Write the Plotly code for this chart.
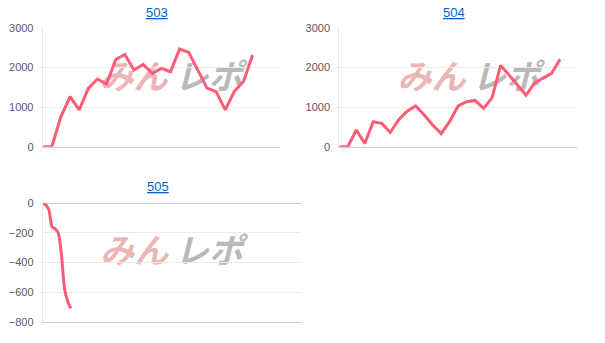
import plotly.graph_objects as go

# ---- data ----
titles = ["503", "504", "505"]
x503 = list(range(24))
y503 = [0, 0, 760, 1265, 930, 1475, 1710, 1585, 2205, 2330, 1940, 2080, 1855, 1980,
        1895, 2470, 2385, 1940, 1480, 1390, 930, 1400, 1650, 2320]
x504 = list(range(27))
y504 = [0, 0, 421, 80, 631, 590, 360, 680, 895, 1030, 800, 547, 330, 640, 1030, 1137,
        1170, 968, 1240, 2055, 1810, 1558, 1300, 1610, 1726, 1852, 2210]
x505 = list(range(10))
y505 = [0, -10, -45, -160, -172, -200, -340, -575, -660, -710]
yticks_pos = [0, 1000, 2000, 3000]
yticks_neg = [0, -200, -400, -600, -800]

W, H = 605, 343
LINE = "#ff5a76"
TICKFONT = dict(family="Liberation Sans, Arial, sans-serif", size=11, color="#5a5a5a")


def px_dom_x(a, b):
    return [a / W, b / W]


def px_dom_y(top, bottom):
    return [1 - bottom / H, 1 - top / H]


fig = go.Figure()
fig.add_trace(go.Scatter(x=x503, y=y503, mode="lines", line=dict(color=LINE, width=3),
                         xaxis="x", yaxis="y", hoverinfo="skip"))
fig.add_trace(go.Scatter(x=x504, y=y504, mode="lines", line=dict(color=LINE, width=3),
                         xaxis="x2", yaxis="y2", hoverinfo="skip"))
fig.add_trace(go.Scatter(x=x505, y=y505, mode="lines",
                         line=dict(color=LINE, width=3, shape="spline", smoothing=0.6),
                         xaxis="x3", yaxis="y3", hoverinfo="skip"))


def xax(dom, rng, anchor):
    return dict(domain=dom, range=rng, anchor=anchor, showgrid=False, zeroline=False,
                showticklabels=False, showline=True, linecolor="#cccccc", linewidth=1,
                ticks="", fixedrange=True, automargin=False)


def yax(dom, rng, tv, anchor):
    return dict(domain=dom, range=rng, anchor=anchor, tickvals=tv, showgrid=True,
                gridcolor="#ebebeb", gridwidth=1, zeroline=True, zerolinecolor="#cccccc",
                zerolinewidth=1, showline=True, linecolor="#e6e6e6", linewidth=1,
                ticks="", ticklabelstandoff=6, tickfont=TICKFONT, fixedrange=True,
                automargin=False)


fig.update_layout(
    width=W, height=H, margin=dict(l=0, r=0, t=0, b=0, autoexpand=False),
    paper_bgcolor="white", plot_bgcolor="white", showlegend=False,
    xaxis=xax(px_dom_x(42.7, 280), [0, 26], "y"),
    yaxis=yax(px_dom_y(28, 146.7), [0, 3000], yticks_pos, "x"),
    xaxis2=xax(px_dom_x(339.3, 577), [0, 28], "y2"),
    yaxis2=yax(px_dom_y(28, 146.7), [0, 3000], yticks_pos, "x2"),
    xaxis3=xax(px_dom_x(42.7, 301), [0, 83], "y3"),
    yaxis3=yax(px_dom_y(203.3, 321.7), [-800, 0], yticks_neg, "x3"),
)

# titles
for t, cx, cy in zip(titles, [157, 454, 158], [13, 13, 186]):
    fig.add_annotation(text="<u>" + t + "</u>", xref="paper", yref="paper",
                       x=cx / W, y=1 - cy / H, xanchor="center", yanchor="middle",
                       showarrow=False,
                       font=dict(family="Liberation Sans, Arial, sans-serif", size=13,
                                 color="#0066cc"))

# watermark logo (text approximation)
WM_FONT = "Noto Sans CJK JP, sans-serif"
wm = [
    ("x", "y", 0.2415, 0.524, 0.557, 0.840, 0.570),
    ("x2", "y2", 0.2427, 0.533, 0.550, 0.853, 0.570),
    ("x3", "y3", 0.2284, 0.480, 0.5045, 0.783, 0.572),
]
for xa, ya, p0, p1, g0, g1, yc in wm:
    for txt, a, b, col in [("みん", p0, p1, "#ecb6b6"), ("レポ", g0, g1, "#b9b9b9")]:
        fig.add_shape(type="rect", xref=xa + " domain", yref=ya + " domain",
                      x0=a, x1=b, y0=yc - 0.11, y1=yc + 0.11, layer="below",
                      line=dict(width=0), fillcolor="rgba(0,0,0,0)",
                      label=dict(text="<b><i>" + txt + "</i></b>",
                                 textposition="middle center",
                                 font=dict(family=WM_FONT, size=34, color=col)))

fig.write_html("out.html")
